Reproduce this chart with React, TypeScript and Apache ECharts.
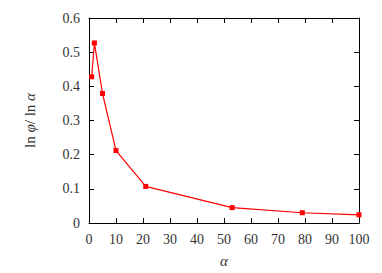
import React, { useEffect, useRef } from "react";
import * as echarts from "echarts";

const alphaValues = [1, 2, 5, 10, 21, 53, 79, 100];
const ratioValues = [0.428, 0.527, 0.379, 0.212, 0.107, 0.045, 0.030, 0.024];
const xTicks = [0, 10, 20, 30, 40, 50, 60, 70, 80, 90, 100];
const yTicks = [0, 0.1, 0.2, 0.3, 0.4, 0.5, 0.6];

const FONT = "Liberation Serif";

export default function App() {
  const ref = useRef<HTMLDivElement>(null);
  useEffect(() => {
    if (!ref.current) return;
    const chart = echarts.init(ref.current, null, { renderer: "svg" });
    const axisCommon = {
      axisLine: { show: true, onZero: false, lineStyle: { color: "#000", width: 1 } },
      axisTick: { show: true, inside: true, length: 5, lineStyle: { color: "#000" } },
      splitLine: { show: false },
    };
    chart.setOption({
      animation: false,
      backgroundColor: "#fff",
      grid: { left: 89, right: 23, top: 18, bottom: 50, outerBoundsMode: "none", containLabel: false },
      xAxis: [
        {
          type: "value",
          min: 0,
          max: 100,
          interval: 10,
          position: "bottom",
          ...axisCommon,
          axisLabel: { color: "#333", fontFamily: FONT, fontSize: 14, margin: 9, formatter: (v: number) => (xTicks.includes(v) ? String(v) : "") },
          name: "α",
          nameLocation: "middle",
          nameGap: 30,
          nameTextStyle: { fontFamily: FONT, fontStyle: "italic", fontSize: 15, color: "#333" },
        },
        {
          type: "value",
          min: 0,
          max: 100,
          interval: 10,
          position: "top",
          ...axisCommon,
          axisLabel: { show: false },
        },
      ],
      yAxis: [
        {
          type: "value",
          min: 0,
          max: 0.6,
          interval: 0.1,
          position: "left",
          ...axisCommon,
          axisLabel: {
            color: "#333",
            fontFamily: FONT,
            fontSize: 14,
            margin: 9,
            formatter: (v: number) => {
              const t = yTicks.find((y) => Math.abs(y - v) < 1e-9);
              if (t === undefined) return "";
              return t === 0 ? "0" : t.toFixed(1);
            },
          },
          name: "{n|ln }{i|φ}{n|/ ln }{i|α}",
          nameLocation: "middle",
          nameGap: 52,
          nameTextStyle: {
            color: "#333",
            rich: {
              n: { fontFamily: FONT, fontSize: 15, color: "#333" },
              i: { fontFamily: FONT, fontStyle: "italic", fontSize: 15, color: "#333" },
            },
          },
        },
        {
          type: "value",
          min: 0,
          max: 0.6,
          interval: 0.1,
          position: "right",
          ...axisCommon,
          axisLabel: { show: false },
        },
      ],
      series: [
        {
          type: "line",
          xAxisIndex: 0,
          yAxisIndex: 0,
          data: alphaValues.map((a, i) => [a, ratioValues[i]]),
          lineStyle: { color: "#ff0000", width: 1.2 },
          itemStyle: { color: "#ff0000" },
          symbol: "rect",
          symbolSize: 5,
        },
      ],
    });
    return () => chart.dispose();
  }, []);
  return <div ref={ref} style={{ position: "fixed", left: 0, top: 0, width: 382, height: 273 }} />;
}
